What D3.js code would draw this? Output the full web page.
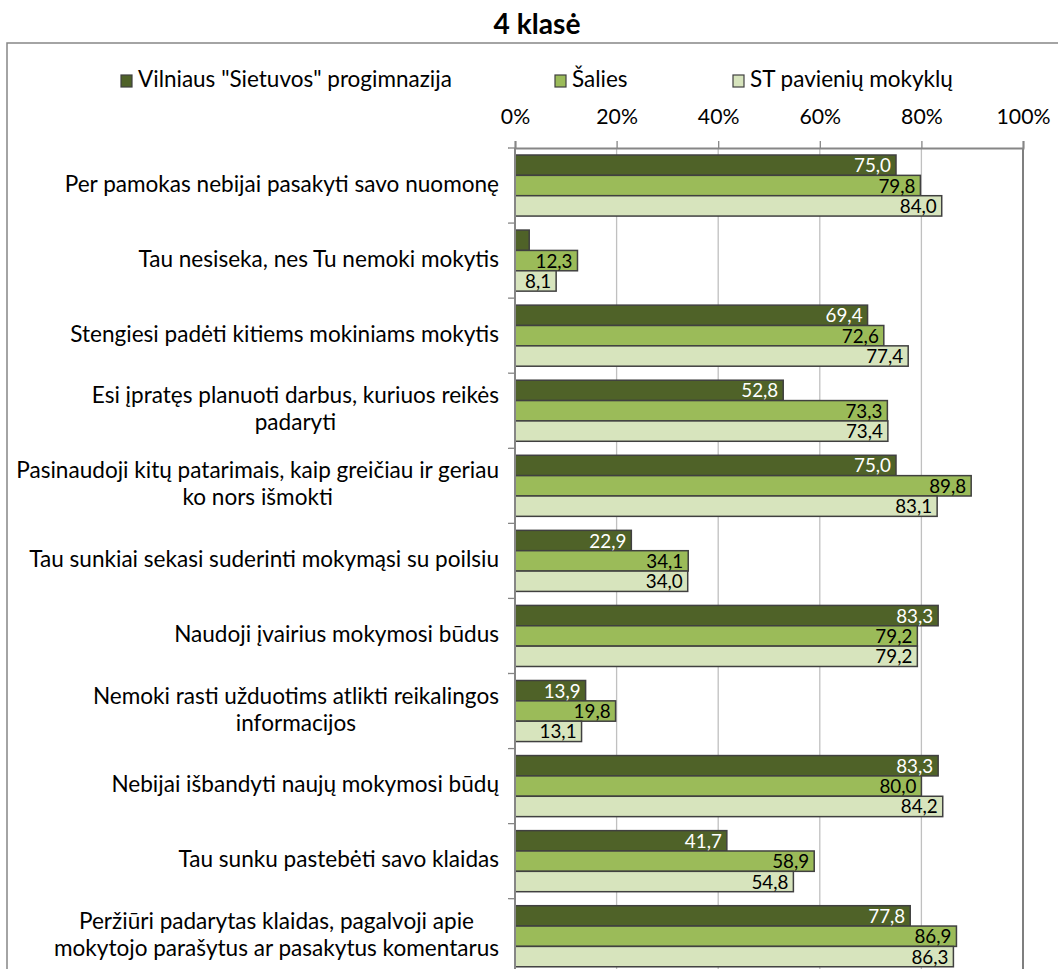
<!DOCTYPE html>
<html><head><meta charset="utf-8">
<script src="https://cdn.jsdelivr.net/npm/d3@7"></script>
<style>body{margin:0;background:#fff}svg{display:block}</style>
</head><body>
<script>
const categories = [
  ["Per pamokas nebijai pasakyti savo nuomonę"],
  ["Tau nesiseka, nes Tu nemoki mokytis"],
  ["Stengiesi padėti kitiems mokiniams mokytis"],
  ["Esi įpratęs planuoti darbus, kuriuos reikės", "padaryti"],
  ["Pasinaudoji kitų patarimais, kaip greičiau ir geriau", "ko nors išmokti"],
  ["Tau sunkiai sekasi suderinti mokymąsi su poilsiu"],
  ["Naudoji įvairius mokymosi būdus"],
  ["Nemoki rasti užduotims atlikti reikalingos", "informacijos"],
  ["Nebijai išbandyti naujų mokymosi būdų"],
  ["Tau sunku pastebėti savo klaidas"],
  ["Peržiūri padarytas klaidas, pagalvoji apie", "mokytojo parašytus ar pasakytus komentarus"]
];
const seriesNames = ['Vilniaus "Sietuvos" progimnazija', "Šalies", "ST pavienių mokyklų"];
const sietuvos = [75.0, 2.8, 69.4, 52.8, 75.0, 22.9, 83.3, 13.9, 83.3, 41.7, 77.8];
const salies   = [79.8, 12.3, 72.6, 73.3, 89.8, 34.1, 79.2, 19.8, 80.0, 58.9, 86.9];
const st       = [84.0, 8.1, 77.4, 73.4, 83.1, 34.0, 79.2, 13.1, 84.2, 54.8, 86.3];
const tickValues = [0, 20, 40, 60, 80, 100];
const title = "4 klasė";

const colors = ["#4f6228", "#9bbb59", "#d7e4bd"];
const labelColors = ["#ffffff", "#000000", "#000000"];
const seriesData = [sietuvos, salies, st];

const W = 1058, H = 969;
const svg = d3.select("body").append("svg").attr("width", W).attr("height", H);
const FONT = "Lato, 'Open Sans', sans-serif";

// font size fitting helper (to mimic Calibri metrics)
function fitSize(str, target, weight) {
  const t = svg.append("text").attr("font-family", FONT).attr("font-size", 20)
    .attr("font-weight", weight || "normal").text(str);
  const w = t.node().getComputedTextLength();
  t.remove();
  return 20 * target / w;
}
const catSize = fitSize("Pasinaudoji kitų patarimais, kaip greičiau ir geriau", 483);
const legSize = fitSize('Vilniaus "Sietuvos" progimnazija', 314);
const tickSize = fitSize("100%", 54);
const valSize = fitSize("75,0", 37);
const titleSize = fitSize(title, 87, "bold");

// outer chart border
svg.append("rect").attr("x", 7).attr("y", 43).attr("width", 1060).attr("height", 1000)
  .attr("fill", "none").attr("stroke", "#868686").attr("stroke-width", 1.5);

svg.append("text").attr("x", 537).attr("y", 34).attr("text-anchor", "middle")
  .attr("font-family", FONT).attr("font-weight", "bold").attr("font-size", titleSize)
  .text(title);

const x0 = 515, x1 = 1023, yTop = 148, band = 75.07;
const x = d3.scaleLinear().domain([0, 100]).range([x0, x1]);
const idx = d3.range(categories.length);
const y = d3.scaleBand().domain(idx).range([yTop, yTop + band * categories.length]).padding(0);
const ys = d3.scaleBand().domain([0, 1, 2]).range([7, band - 7]).padding(0);

// gridlines
svg.append("g").selectAll("line").data(tickValues.slice(1)).join("line")
  .attr("x1", d => x(d)).attr("x2", d => x(d))
  .attr("y1", yTop).attr("y2", H)
  .attr("stroke", d => d === 100 ? "#7f7f7f" : "#c0c0c0")
  .attr("stroke-width", d => d === 100 ? 2 : 1.3);

// top axis
const axis = d3.axisTop(x).tickValues(tickValues).tickFormat(d => d + "%").tickSize(7).tickPadding(17);
const ag = svg.append("g").attr("transform", `translate(0,${yTop})`).call(axis);
ag.select(".domain").attr("stroke", "#868686").attr("stroke-width", 2);
ag.selectAll(".tick line").attr("stroke", "#868686").attr("stroke-width", 1.3);
ag.selectAll(".tick text").attr("font-family", FONT).attr("font-size", tickSize).attr("fill", "#000");

// bars
const groups = svg.append("g").selectAll("g").data(idx).join("g")
  .attr("transform", d => `translate(0,${y(d)})`);
groups.selectAll("rect").data(i => seriesData.map((s, k) => ({k, v: s[i]}))).join("rect")
  .attr("x", x(0)).attr("y", d => ys(d.k)).attr("width", d => x(d.v) - x(0))
  .attr("height", ys.bandwidth())
  .attr("fill", d => colors[d.k]).attr("stroke", "#404040").attr("stroke-width", 1.5);
groups.selectAll("text.val").data(i => seriesData.map((s, k) => ({k, v: s[i]})).filter(d => d.v > 5)).join("text")
  .attr("class", "val")
  .attr("x", d => x(d.v) - 5).attr("y", d => ys(d.k) + ys.bandwidth() / 2 + 7)
  .attr("text-anchor", "end").attr("font-family", FONT).attr("font-size", valSize)
  .attr("fill", d => labelColors[d.k])
  .text(d => d3.format(".1f")(d.v).replace(".", ","));

// category axis
const cg = svg.append("g");
cg.append("line").attr("x1", x0).attr("x2", x0).attr("y1", yTop).attr("y2", H)
  .attr("stroke", "#868686").attr("stroke-width", 2);
cg.selectAll("line.t").data(d3.range(categories.length + 1)).join("line").attr("class", "t")
  .attr("x1", x0 - 7).attr("x2", x0).attr("y1", d => yTop + band * d).attr("y2", d => yTop + band * d)
  .attr("stroke", "#868686").attr("stroke-width", 1.3);

// category labels
const lab = svg.append("g").selectAll("text").data(idx).join("text")
  .attr("font-family", FONT).attr("font-size", catSize).attr("fill", "#000");
lab.each(function(i) {
  const t = d3.select(this);
  const lines = categories[i];
  const cy = y(i) + band / 2;
  const lh = 27;
  lines.forEach((ln, j) => {
    t.append("tspan").attr("y", cy + (j - (lines.length - 1) / 2) * lh + 6).text(ln);
  });
  const tsp = t.selectAll("tspan").nodes();
  const maxW = d3.max(tsp.map(n => n.getComputedTextLength()));
  tsp.forEach(n => d3.select(n).attr("x", 499 - maxW / 2).attr("text-anchor", "middle"));
});

// legend
const legX = [121, 555, 733];
const lg = svg.append("g").selectAll("g").data(seriesNames).join("g")
  .attr("transform", (d, i) => `translate(${legX[i]},75)`);
lg.append("rect").attr("width", 11).attr("height", 12).attr("fill", (d, i) => colors[i])
  .attr("stroke", "#404040").attr("stroke-width", 1.2);
lg.append("text").attr("x", 17).attr("y", 12).attr("font-family", FONT).attr("font-size", legSize)
  .text(d => d);
</script>
</body></html>
